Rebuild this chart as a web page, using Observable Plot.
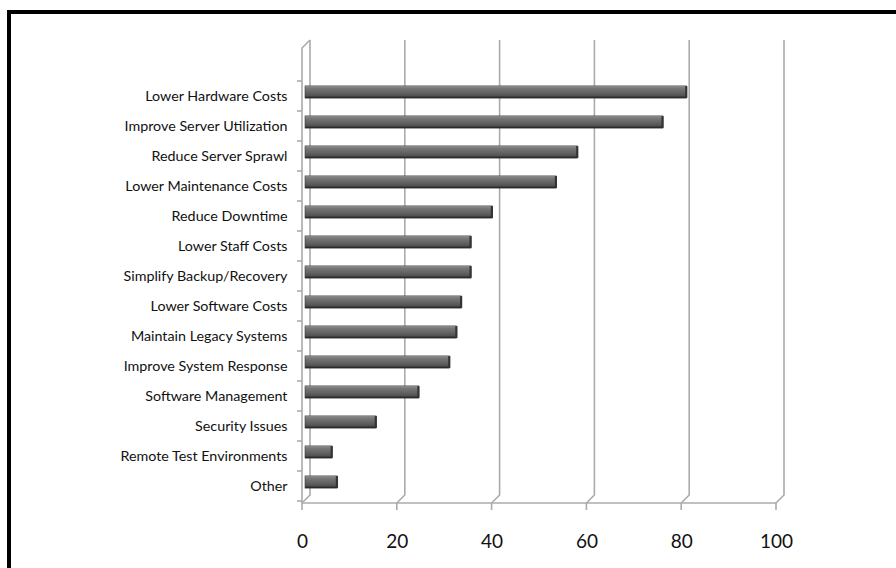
<!DOCTYPE html>
<html>
<head>
<meta charset="utf-8">
<script src="https://cdn.jsdelivr.net/npm/d3@7"></script>
<script src="https://cdn.jsdelivr.net/npm/@observablehq/plot@0.6"></script>
<style>
  html, body { margin: 0; padding: 0; background: #fff; }
  #wrap { position: relative; width: 896px; height: 568px; overflow: hidden; }
  #wrap svg { position: absolute; left: 0; top: 0; }
  #border { position: absolute; left: 7px; top: 10px; right: 0; bottom: 0;
            border-left: 4px solid #000; border-top: 4px solid #000; pointer-events: none; }
</style>
</head>
<body>
<div id="wrap"><div id="border"></div></div>
<script>
const categories = [
  "Lower Hardware Costs",
  "Improve Server Utilization",
  "Reduce Server Sprawl",
  "Lower Maintenance Costs",
  "Reduce Downtime",
  "Lower Staff Costs",
  "Simplify Backup/Recovery",
  "Lower Software Costs",
  "Maintain Legacy Systems",
  "Improve System Response",
  "Software Management",
  "Security Issues",
  "Remote Test Environments",
  "Other"
];
const values = [80.5, 75.5, 57.5, 53, 39.5, 35, 35, 33, 32, 30.5, 24, 15, 5.7, 6.8];
const xTicks = [0, 20, 40, 60, 80, 100];

const data = categories.map((c, i) => ({category: c, value: values[i]}));

// gradient definitions for the cylinder-like bars
function defs() {
  const g = d3.create("svg:g");
  const grad = g.append("defs").append("linearGradient")
    .attr("id", "barGrad").attr("x1", 0).attr("y1", 0).attr("x2", 0).attr("y2", 1);
  [[0, "#a8a8a8"], [0.15, "#7a7a7a"], [0.5, "#666666"], [0.8, "#525252"], [1, "#1c1c1c"]]
    .forEach(([o, c]) => grad.append("stop").attr("offset", o).attr("stop-color", c));
  return g.node();
}

// pseudo-3D frame: wall, floor, back gridlines
function frame(index, scales, vals, dims) {
  const {x, y} = scales;
  const g = d3.create("svg:g").attr("fill", "none").attr("stroke", "#ababab").attr("stroke-width", 1.6);
  const depth = 8;
  const x0 = x(0);
  const bottom = dims.height - dims.marginBottom;
  const top = dims.marginTop - 31;
  for (const t of xTicks) {
    const xp = x(t);
    g.append("path").attr("d", `M${xp},${bottom + 7}V${bottom}L${xp + depth},${bottom - depth}V${top - depth}`);
  }
  g.append("path").attr("d", `M${x0},${bottom}H${x(100)}`);
  g.append("path").attr("d", `M${x0},${bottom}V${top}L${x0 + depth},${top - depth}`);
  const bw = y.bandwidth();
  const dom = y.domain();
  const bounds = dom.map(c => y(c)).concat([y(dom[dom.length - 1]) + bw]);
  for (const b of bounds) {
    g.append("path").attr("d", `M${x0 - 5},${b}H${x0}`);
  }
  return g.node();
}

const chart = Plot.plot({
  width: 896,
  height: 568,
  marginLeft: 302,
  marginRight: 120,
  marginTop: 79,
  marginBottom: 65,
  style: {fontFamily: "Lato, 'Open Sans', sans-serif", background: "transparent", color: "#111"},
  x: {domain: [0, 100]},
  y: {domain: categories, padding: 0},
  marks: [
    defs,
    frame,
    Plot.barX(data, {
      x: "value", y: "category",
      fill: "url(#barGrad)", stroke: "#3a3a3a", strokeWidth: 0.6,
      insetTop: 8.9, insetBottom: 8.9, dx: 3, dy: -4
    }),
    Plot.tickX(data, {
      x: "value", y: "category",
      stroke: "#333", strokeWidth: 2.2,
      insetTop: 9.1, insetBottom: 9.1, dx: 2.2, dy: -4
    }),
    Plot.axisY({tickSize: 0, tickPadding: 15, fontSize: 14.3, label: null, dy: 0, fill: "#111"}),
    Plot.axisX({ticks: xTicks, tickSize: 0, tickPadding: 31, fontSize: 19, label: null, fill: "#111"})
  ]
});
document.getElementById("wrap").insertBefore(chart, document.getElementById("border"));
</script>
</body>
</html>
